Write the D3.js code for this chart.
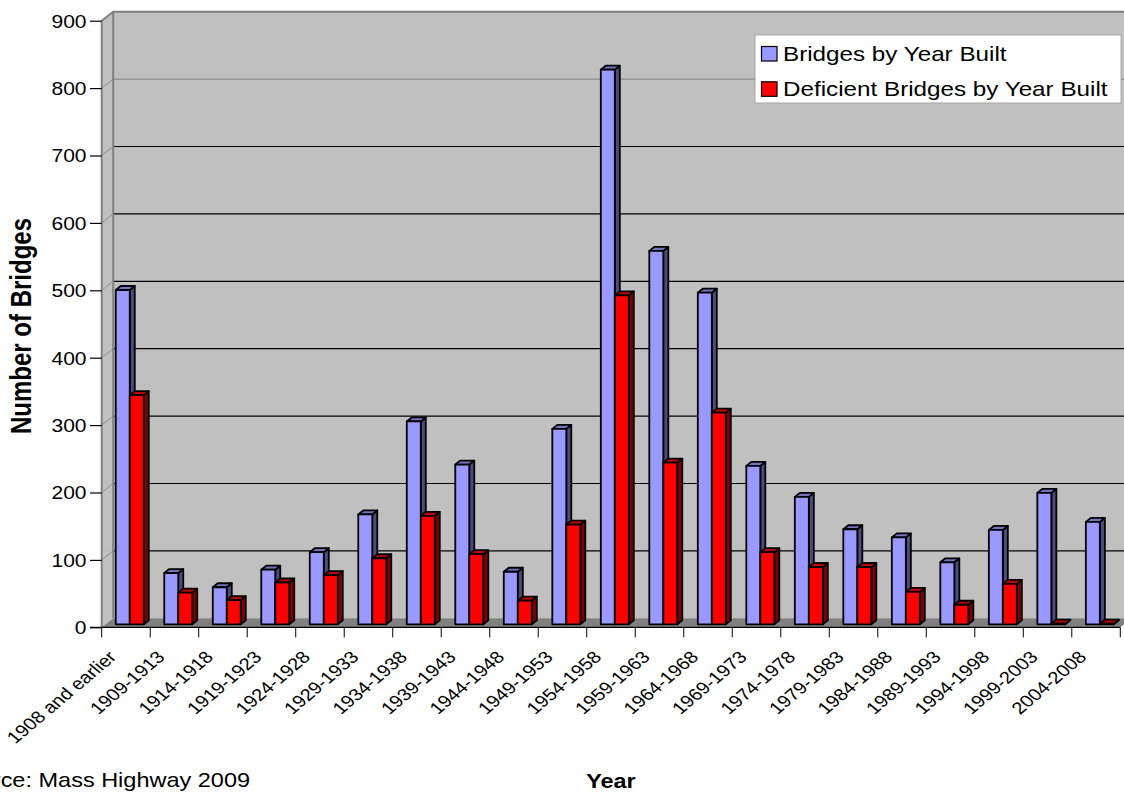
<!DOCTYPE html>
<html>
<head>
<meta charset="utf-8">
<script src="https://cdn.jsdelivr.net/npm/d3@7"></script>
<style>
  html, body { margin: 0; padding: 0; background: #fff; }
  svg { display: block; font-family: "Liberation Sans", Arial, sans-serif; }
</style>
</head>
<body>
<svg id="chart" width="1124" height="792"></svg>
<script>
// Bridge counts by construction period
const categories = ["1908 and earlier", "1909-1913", "1914-1918", "1919-1923", "1924-1928",
  "1929-1933", "1934-1938", "1939-1943", "1944-1948", "1949-1953", "1954-1958",
  "1959-1963", "1964-1968", "1969-1973", "1974-1978", "1979-1983", "1984-1988",
  "1989-1993", "1994-1998", "1999-2003", "2004-2008"];
const bridges = [496, 76, 55, 81, 107, 163, 301, 237, 78, 290, 823, 554, 492, 235, 189, 141, 129, 92, 140, 195, 152];
const deficient = [340, 47, 36, 62, 73, 98, 161, 104, 35, 148, 488, 240, 314, 107, 85, 85, 48, 29, 60, 1, 1];
const yTicks = [0, 100, 200, 300, 400, 500, 600, 700, 800, 900];
const seriesNames = ["Bridges by Year Built", "Deficient Bridges by Year Built"];

const svg = d3.select("#chart");
const SX = 1.2; // horizontal text stretch

const x = d3.scaleBand().domain(categories).range([101.7, 1120.3]);
const y = d3.scaleLinear().domain([0, 900]).range([627.3, 20.7]);

// depth of the 3D box
const DX = 11.5, DY = -9;
// bars stand a third of the way into the floor
const BX = 3.8, BY = -3;
// depth of each bar
const bdx = 5, bdy = -4;
const barW = 14;
const groupOff = (x.bandwidth() - 2 * barW) / 2;

const x0 = x.range()[0], x1 = x.range()[1];
const yTop = y(900), yBase = y(0);

// left side wall
svg.append("polygon")
  .attr("points", [[x0, yTop], [x0 + DX, yTop + DY], [x0 + DX, yBase + DY], [x0, yBase]].join(" "))
  .attr("fill", "#c0c0c0");
// back wall
svg.append("rect")
  .attr("x", x0 + DX).attr("y", yTop + DY)
  .attr("width", x1 - x0).attr("height", yBase - yTop)
  .attr("fill", "#c0c0c0");
// floor
svg.append("polygon")
  .attr("points", [[x0, yBase], [x0 + DX, yBase + DY], [x1 + DX, yBase + DY], [x1, yBase]].join(" "))
  .attr("fill", "#808080");

// grid lines on the back wall and across the side wall
const gridVals = yTicks.filter(v => v > 0 && v < 900);
svg.append("g").selectAll("line").data(gridVals).join("line")
  .attr("x1", x0 + DX).attr("x2", x1 + DX)
  .attr("y1", d => y(d) + DY).attr("y2", d => y(d) + DY)
  .attr("stroke", d => d === 800 ? "#8c8c8c" : "#000")
  .attr("stroke-width", 1.2);
svg.append("g").selectAll("line").data(gridVals).join("line")
  .attr("x1", x0).attr("x2", x0 + DX)
  .attr("y1", d => y(d)).attr("y2", d => y(d) + DY)
  .attr("stroke", "#8c8c8c").attr("stroke-width", 1);

// wall edges
svg.append("path")
  .attr("d", `M${x0},${yBase}V${yTop}L${x0 + DX},${yTop + DY}H${x1 + DX}M${x0 + DX},${yTop + DY}V${yBase + DY}`)
  .attr("fill", "none").attr("stroke", "#808080").attr("stroke-width", 2);

// bars
const series = [
  { values: bridges, front: "#9999ff", top: "#7373bf", side: "#4c4c80" },
  { values: deficient, front: "#ff0000", top: "#bf0000", side: "#800000" }
];
const barsG = svg.append("g").attr("stroke", "#000").attr("stroke-width", 1.8).attr("stroke-linejoin", "round");
categories.forEach((c, i) => {
  series.forEach((s, si) => {
    const v = s.values[i];
    const bx = x(c) + BX + groupOff + si * barW;
    const by0 = y(0) + BY;
    const by1 = y(v) + BY;
    const g = barsG.append("g");
    // side face
    g.append("polygon")
      .attr("points", [[bx + barW, by0], [bx + barW + bdx, by0 + bdy], [bx + barW + bdx, by1 + bdy], [bx + barW, by1]].join(" "))
      .attr("fill", s.side);
    // top face
    g.append("polygon")
      .attr("points", [[bx, by1], [bx + bdx, by1 + bdy], [bx + barW + bdx, by1 + bdy], [bx + barW, by1]].join(" "))
      .attr("fill", s.top);
    // front face
    g.append("rect")
      .attr("x", bx).attr("y", by1).attr("width", barW).attr("height", by0 - by1)
      .attr("fill", s.front);
  });
});

// y axis
const yAxis = svg.append("g")
  .attr("transform", `translate(${x0},0)`)
  .call(d3.axisLeft(y).tickValues(yTicks).tickSize(11.7).tickPadding(0));
yAxis.select(".domain").remove();
yAxis.selectAll(".tick line").attr("stroke", "#000").attr("stroke-width", 1.2);
yAxis.selectAll(".tick text")
  .attr("x", 0).attr("dy", null)
  .attr("dominant-baseline", "central")
  .attr("transform", `translate(-15.2,0.5) scale(${SX},1)`)
  .attr("font-family", "'Liberation Sans', Arial, sans-serif")
  .attr("font-size", 17.5).attr("fill", "#000");

// x axis line and category boundary ticks
svg.append("line")
  .attr("x1", x0 - 11.7).attr("x2", x1).attr("y1", yBase).attr("y2", yBase)
  .attr("stroke", "#000").attr("stroke-width", 1.2);
const bounds = categories.map(c => x(c)).concat([x1]);
svg.append("g").selectAll("line").data(bounds).join("line")
  .attr("x1", d => d).attr("x2", d => d)
  .attr("y1", yBase).attr("y2", yBase + 10)
  .attr("stroke", "#000").attr("stroke-width", 1);

// category labels
svg.append("g").selectAll("text").data(categories).join("text")
  .attr("transform", d => `translate(${x(d) + x.bandwidth() / 2 - 8.5},658) scale(${SX},1) rotate(-45.5)`)
  .attr("text-anchor", "end")
  .attr("font-size", 16.8).attr("fill", "#000")
  .text(d => d);

// axis titles
svg.append("text")
  .attr("transform", `translate(31,326) scale(${SX},1) rotate(-90)`)
  .attr("text-anchor", "middle")
  .attr("font-size", 24).attr("font-weight", "bold")
  .text("Number of Bridges");
svg.append("text")
  .attr("transform", `translate(611,788) scale(${SX},1)`)
  .attr("text-anchor", "middle")
  .attr("font-size", 19.5).attr("font-weight", "bold")
  .text("Year");

// source note
svg.append("text")
  .attr("transform", `translate(-49,787) scale(${SX},1)`)
  .attr("font-size", 19.6)
  .text("Source: Mass Highway 2009");

// legend
const legend = svg.append("g");
legend.append("rect")
  .attr("x", 755).attr("y", 35).attr("width", 366).attr("height", 68)
  .attr("fill", "#fff").attr("stroke", "#a6a6a6").attr("stroke-width", 1);
const legendRows = legend.selectAll("g.row").data(seriesNames).join("g").attr("class", "row")
  .attr("transform", (d, i) => `translate(0,${i * 35.3})`);
legendRows.append("rect")
  .attr("x", 761.5).attr("y", 46.5).attr("width", 15.5).attr("height", 14.5)
  .attr("fill", (d, i) => series[i].front)
  .attr("stroke", "#000").attr("stroke-width", 1.2);
legendRows.append("text")
  .attr("transform", `translate(783,61) scale(${SX},1)`)
  .attr("font-size", 20.2)
  .text(d => d);
</script>
</body>
</html>
